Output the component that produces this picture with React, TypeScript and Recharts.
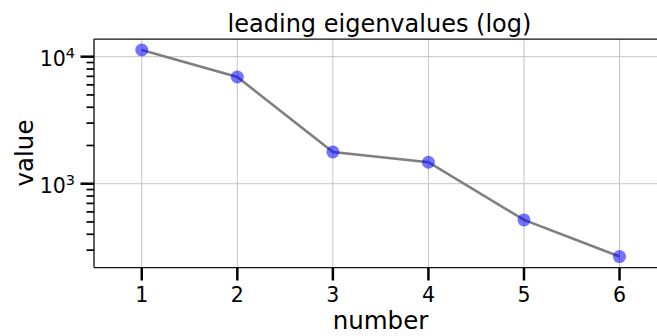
import React from 'react';
import { LineChart, Line, XAxis, YAxis, CartesianGrid, ReferenceLine, Label } from 'recharts';

const numbers = [1, 2, 3, 4, 5, 6];
const eigenvalues = [11290, 6920, 1779, 1476, 519, 267];
const xTicks = [1, 2, 3, 4, 5, 6];
const yMajorTicks = [1000, 10000];
const yMinorTicks = [300, 400, 500, 600, 700, 800, 900, 2000, 3000, 4000, 5000, 6000, 7000, 8000, 9000];
const yDomain = [219, 13780];
const xDomain = [0.5, 6.5];

const data = numbers.map((n, i) => ({ number: n, value: eigenvalues[i] }));
const allYTicks = [...yMinorTicks, ...yMajorTicks].sort((a, b) => a - b);

const FONT = '"DejaVu Sans", sans-serif';
const PLOT_LEFT = 94;
const PLOT_BOTTOM = 267.5;
const SPINE = '#111';

const YTick = (props: any) => {
  const { y, payload } = props;
  const v = payload.value;
  const isMajor = yMajorTicks.includes(v);
  const exp = Math.round(Math.log10(v));
  return (
    <g>
      <line
        x1={PLOT_LEFT - (isMajor ? 13.5 : 7.5)}
        x2={PLOT_LEFT}
        y1={y}
        y2={y}
        stroke="#000"
        strokeWidth={isMajor ? 2.5 : 1.7}
      />
      {isMajor && (
        <text x={75} y={y + 9.5} textAnchor="end" fontFamily={FONT} fontSize={20.5} fill="#000">
          10
          <tspan dy={-8.5} fontSize={14.5}>{exp}</tspan>
        </text>
      )}
    </g>
  );
};

const XTick = (props: any) => {
  const { x, payload } = props;
  return (
    <g>
      <line x1={x} x2={x} y1={PLOT_BOTTOM} y2={PLOT_BOTTOM + 13} stroke="#000" strokeWidth={2.5} />
      <text x={x} y={301.5} textAnchor="middle" fontFamily={FONT} fontSize={20.5} fill="#000">
        {payload.value}
      </text>
    </g>
  );
};

const Dot = (props: any) => {
  const { cx, cy, index } = props;
  return <circle key={`d${index}`} cx={cx} cy={cy} r={6.5} fill="#0000ff" fillOpacity={0.55} stroke="none" />;
};

export default function App() {
  return (
    <div style={{ position: 'absolute', left: 0, top: 0, width: 657, height: 336, overflow: 'hidden', background: '#fff' }}>
      <LineChart
        width={680}
        height={336}
        data={data}
        margin={{ top: 39, right: 12.7, bottom: 0, left: 0 }}
        style={{ position: 'absolute', left: 0, top: 0 }}
      >
        <CartesianGrid horizontal={false} vertical={true} stroke="#c4c4c4" strokeWidth={1} />
        {yMajorTicks.map((t) => (
          <ReferenceLine key={t} y={t} stroke="#c4c4c4" strokeWidth={1} />
        ))}
        <ReferenceLine y={yDomain[1]} stroke={SPINE} strokeWidth={1.25} ifOverflow="visible">
          <Label
            content={() => (
              <text x={379.5} y={31.5} textAnchor="middle" fontFamily={FONT} fontSize={24} fill="#000">
                leading eigenvalues (log)
              </text>
            )}
          />
        </ReferenceLine>
        <XAxis
          dataKey="number"
          type="number"
          domain={xDomain}
          ticks={xTicks}
          height={68.5}
          tickLine={false}
          axisLine={{ stroke: SPINE, strokeWidth: 1.25 }}
          tick={<XTick />}
          interval={0}
        >
          <Label
            content={() => (
              <text x={380.5} y={329} textAnchor="middle" fontFamily={FONT} fontSize={24.5} fill="#000">
                number
              </text>
            )}
          />
        </XAxis>
        <YAxis
          dataKey="value"
          scale="log"
          type="number"
          domain={yDomain}
          allowDataOverflow
          ticks={allYTicks}
          width={94}
          tickLine={false}
          axisLine={{ stroke: SPINE, strokeWidth: 1.25 }}
          tick={<YTick />}
          interval={0}
        >
          <Label
            content={() => (
              <text
                x={0}
                y={0}
                transform="translate(33,153) rotate(-90)"
                textAnchor="middle"
                fontFamily={FONT}
                fontSize={24.5}
                fill="#000"
              >
                value
              </text>
            )}
          />
        </YAxis>
        <Line
          type="linear"
          dataKey="value"
          stroke="#7f7f7f"
          strokeWidth={2.6}
          dot={<Dot />}
          activeDot={false}
          isAnimationActive={false}
        />
      </LineChart>
    </div>
  );
}
